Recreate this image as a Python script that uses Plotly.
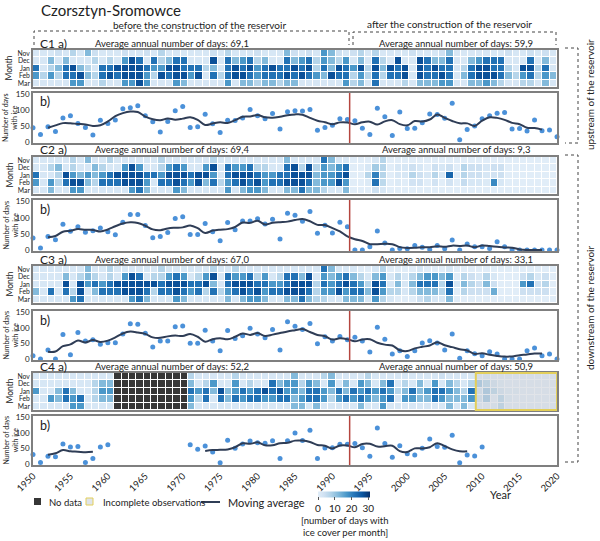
import plotly.graph_objects as go

years = list(range(1950, 2021))
months = ['Nov', 'Dec', 'Jan', 'Feb', 'Mar']
N = None

# ---------------- C1 ----------------
c1_nov = [2,2,2,4,2,7,2,12,4,2, 2,2,4,2,2,4,2,7,2,2, 2,2,2,2,4,2,7,2,2,2, 4,2,2,2,12,4,2,4,2,17, 12,4,2,4,7,2,7,2,2,2, 2,4,2,2,2,4,12,2,2,2, 2,2,2,2,4,2,2,4,2,4, 2]
c1_dec = [2,2,12,2,12,2,2,2,7,2, 7,2,17,27,22,2,22,7,12,22, 22,2,2,2,27,2,22,12,17,22, 7,12,2,2,22,12,17,22,7,17, 12,7,17,2,12,2,22,7,2,27, 2,2,27,22,12,12,22,2,2,12, 17,22,22,22,2,2,2,22,2,12, 2]
c1_jan = [22,2,7,12,22,27,12,7,2,22, 22,27,27,27,27,22,17,17,27,27, 22,22,22,7,12,2,22,27,22,27, 17,22,27,22,22,27,22,27,7,22, 12,27,22,17,27,7,27,12,27,22, 27,2,27,22,27,22,22,2,7,22, 27,27,22,22,7,2,27,27,7,22, 2]
c1_feb = [17,7,17,7,22,22,27,12,7,22, 27,22,27,27,27,17,7,27,22,27, 27,17,27,2,22,7,22,27,27,22, 17,22,22,22,27,22,27,22,17,12, 27,22,22,7,17,7,22,7,22,22, 27,2,27,22,22,27,22,2,12,22, 27,27,27,22,12,7,17,22,7,17, 12]
c1_mar = [2,2,2,2,2,17,17,2,2,7, 2,2,17,17,27,17,2,2,2,17, 12,2,2,2,2,2,17,2,12,12, 7,12,12,7,12,12,2,2,2,2, 2,2,17,7,12,2,22,2,2,2, 7,2,12,12,12,17,17,2,2,12, 12,17,12,7,2,2,7,7,2,12, 2]
c1_total = [45,24,48,33,76,83,59,46,22,69, 59,70,105,108,115,83,64,32,65,99,
            112,46,48,88,58,30,69,68,76,103, 83,74,90,41,96,99,98,103,37,46,
            53,74,71,67,44,24,107,80,21,95, 43,44,61,89,87,75,123,7,40,51,
            74,83,91,93,41,43,35,70,36,38, 17]

# ---------------- C2 ----------------
c2_nov = [2,2,2,2,2,7,2,12,2,2, 7,2,2,2,2,2,2,7,2,2, 2,2,2,2,7,2,2,2,2,2, 2,2,2,2,12,2,2,2,2,22, 12,2,2,
          0,0,0,2,7,0,0,0,0,0, 0,0,0,0,0,0,0,0,0,0, 0,0,0,0,0,0,0,0]
c2_dec = [2,2,7,12,2,7,2,2,12,7, 2,2,17,27,17,2,2,7,17,22, 17,2,2,17,27,2,22,17,17,22, 7,7,2,2,22,27,7,27,7,17, 12,17,22,
          0,0,2,9,7,0,2,2,4,2, 0,4,2,4,0,7,4,4,2,4, 4,0,0,0,0,0,0,0]
c2_jan = [22,2,2,7,27,17,12,17,12,17, 22,27,27,27,27,22,22,17,27,27, 27,22,27,27,17,2,22,27,27,27, 22,17,17,22,22,27,27,27,12,17, 17,22,27,
          0,0,7,20,7,0,2,2,7,4, 2,7,2,24,0,7,4,4,2,3, 4,0,0,0,0,0,0,0]
c2_feb = [17,2,17,7,22,27,27,12,7,22, 22,22,27,27,27,17,2,22,22,27, 22,17,27,12,22,7,17,22,27,22, 27,17,22,22,27,27,27,22,12,17, 17,27,17,
          0,0,1,22,6,0,1,0,3,3, 0,3,0,3,0,5,2,2,1,19, 2,0,0,0,0,0,0,0]
c2_mar = [2,2,12,2,2,17,17,2,2,2, 2,2,2,17,22,12,2,2,2,17, 12,2,2,2,2,2,17,2,12,17, 17,12,2,2,12,12,22,12,12,7, 2,2,12,
          0,0,0,4,2,0,0,0,0,0, 0,0,0,0,0,0,0,0,0,0, 0,0,0,0,0,0,0,0]
c2_total = [37,6,42,32,80,58,72,55,60,68, 57,47,86,110,110,76,38,42,54,98,
            103,48,48,82,57,29,85,63,90,90, 97,81,95,34,114,108,89,119,52,77,
            53,86,72,0,0,10,59,22,0,5, 4,14,9,2,14,4,31,0,19,10,
            10,5,26,10,0,0,0,0,0,0, 0]

# ---------------- C3 ----------------
c3_nov = [2,2,2,2,2,2,2,12,2,2, 7,2,2,2,2,2,2,7,2,2, 2,2,2,2,7,2,2,7,2,2, 2,2,2,2,2,2,2,2,2,22, 12,2,2,
          2,0,0,2,7,0,0,0,0,2, 0,0,0,2,0,0,0,0,0,0, 0,0,0,0,0,0,0,0]
c3_dec = [2,2,2,2,12,2,7,12,7,2, 7,2,17,27,22,2,7,7,17,22, 17,2,7,17,27,2,22,17,17,22, 7,17,2,7,22,22,12,27,2,17, 12,17,22,
          12,7,2,12,17,2,7,2,7,12, 17,17,12,17,0,7,4,2,7,2, 0,0,0,4,7,2,4,0]
c3_jan = [2,2,2,2,27,2,27,17,22,17, 22,27,27,27,27,27,27,22,27,27, 27,22,22,27,12,2,22,27,27,27, 22,22,17,17,22,27,27,27,7,22, 17,22,27,
          22,17,7,27,22,2,12,2,12,22, 22,22,7,27,2,12,7,4,12,4, 0,0,0,17,22,4,7,0]
c3_feb = [12,2,22,2,22,7,27,2,12,22, 22,22,27,27,27,22,7,22,22,27, 22,17,22,7,22,7,17,22,27,22, 27,17,22,22,27,27,27,22,7,17, 17,27,17,
          22,22,12,27,17,7,7,2,7,12, 12,12,7,22,0,7,4,4,4,14, 0,0,0,4,4,4,4,0]
c3_mar = [2,2,2,2,2,17,22,2,2,2, 2,2,2,17,22,12,2,2,2,17, 12,2,2,2,2,2,12,2,12,17, 17,12,2,2,12,12,22,12,7,7, 2,2,12,
          12,12,2,17,7,2,0,0,0,4, 7,2,2,12,0,0,0,0,0,0, 0,0,0,0,0,0,0,0]
c3_total = [11,0,29,0,79,14,86,58,62,48, 53,53,81,114,112,83,39,58,58,104,
            107,51,51,93,58,27,92,66,75,99, 81,69,95,29,120,106,95,115,49,72,
            58,73,62,70,58,23,103,64,16,27, 8,27,52,59,52,29,81,3,27,17,
            11,24,16,0,0,0,27,36,11,16, 0]

# ---------------- C4 ----------------
c4_nov = [2,2,2,2,2,2,2,2,2,2,2, N,N,N,N,N,N,N,N,N,N,
          7,2,2,2,2,2,7,2,2,2, 2,2,2,2,12,2,2,2,7,12, 2,2,2,2,7,2,2,2,2,2, 2,2,2,2,4,2,2,2,2,2, 4,2,2,2,2,2,2,2,2,2]
c4_dec = [2,2,2,2,2,2,2,2,7,12,12, N,N,N,N,N,N,N,N,N,N,
          12,2,7,17,2,2,17,2,7,2, 2,22,12,17,17,7,17,12,2,17, 2,12,2,17,12,2,12,22,2,7, 2,12,2,17,2,12,7,2,7,17, 12,7,4,2,2,2,2,2,2,2]
c4_jan = [17,2,2,12,22,12,2,2,7,17,17, N,N,N,N,N,N,N,N,N,N,
          22,17,22,12,27,12,17,22,17,22, 27,22,27,17,17,12,22,22,17,12, 22,12,22,17,22,17,22,17,7,12, 22,12,17,22,22,17,12,7,22,7, 17,12,7,4,4,2,2,2,2,2]
c4_feb = [2,2,17,12,22,17,22,2,7,12,12, N,N,N,N,N,N,N,N,N,N,
          17,7,22,2,22,12,22,17,22,22, 17,17,22,22,12,17,22,22,17,7, 17,22,17,22,17,12,17,22,2,17, 17,12,12,22,17,12,12,12,17,7, 17,2,12,4,2,2,2,2,2,2]
c4_mar = [2,2,2,2,2,17,17,2,2,2,2, N,N,N,N,N,N,N,N,N,N,
          12,2,2,2,2,2,2,2,2,2, 2,2,2,2,12,12,2,12,2,2, 2,2,2,12,2,2,17,2,2,2, 2,2,2,2,2,12,2,12,2,2, 2,4,12,2,2,2,2,2,2,2]
c4_total = [31,5,25,24,65,55,57,5,18,55, 62,N,N,N,N,N,N,N,N,N,
            N,62,48,58,39,4,77,51,65,74, 69,67,75,18,75,100,76,109,18,52,
            53,64,64,66,53,25,116,66,22,59, 33,29,51,81,57,54,93,4,29,26,
            55,N,N,N,N,N,N,N,N,N, N]

avg_before = ['69,1', '69,4', '67,0', '52,2']
avg_after = ['59,9', '9,3', '33,1', '50,9']
station_labels = ['C1', 'C2', 'C3', 'C4']
reservoir_year = 1992.3
incomplete_from = 2009.5
tick_years = list(range(1950, 2021, 5))

W, H = 600, 541
def px(x):
    return x / W
def py(y):
    return 1 - y / H

FONT = 'Lato'
TXT = '#222222'
GRID = '#7f7f7f'
DOT = '#4b91d9'
LINE = '#2f3d56'
RED = '#b5463f'

colorscale = [[0.0, '#e1edf8'], [0.12, '#cfe1f2'], [0.25, '#b0d2e8'], [0.4, '#7fb8da'],
              [0.55, '#4a98c9'], [0.7, '#2474b7'], [0.85, '#0b559f'], [1.0, '#08306b']]


def moving_average(vals, k=2):
    out = []
    for i in range(len(vals)):
        win = vals[max(0, i - k): i + k + 1]
        if i - k < 0 or i + k >= len(vals) or any(v is None for v in win):
            out.append(None)
        else:
            out.append(sum(win) / len(win))
    return out


stations = [
    dict(rows=[c1_nov, c1_dec, c1_jan, c1_feb, c1_mar], total=c1_total, heat=(50, 87), box=(93, 143)),
    dict(rows=[c2_nov, c2_dec, c2_jan, c2_feb, c2_mar], total=c2_total, heat=(157, 194), box=(200, 251)),
    dict(rows=[c3_nov, c3_dec, c3_jan, c3_feb, c3_mar], total=c3_total, heat=(266, 303), box=(311, 360)),
    dict(rows=[c4_nov, c4_dec, c4_jan, c4_feb, c4_mar], total=c4_total, heat=(373, 410), box=(416, 465)),
]

fig = go.Figure()
layout = {}
shapes = []
annotations = []
XDOM = [px(33), px(557)]

for i, st in enumerate(stations):
    ha = 2 * i + 1
    ba = 2 * i + 2
    hx = 'x' if ha == 1 else f'x{ha}'
    hy = 'y' if ha == 1 else f'y{ha}'
    bx = f'x{ba}'
    by = f'y{ba}'
    hxk = 'xaxis' if ha == 1 else f'xaxis{ha}'
    hyk = 'yaxis' if ha == 1 else f'yaxis{ha}'

    fig.add_trace(go.Heatmap(z=st['rows'], x=years, y=months, coloraxis='coloraxis',
                             xgap=1, ygap=1, xaxis=hx, yaxis=hy, hoverongaps=False))
    if any(v is None for v in st['rows'][0]):
        nd = [[1 if v is None else None for v in row] for row in st['rows']]
        fig.add_trace(go.Heatmap(z=nd, x=years, y=months, showscale=False,
                                 colorscale=[[0, '#363636'], [1, '#363636']],
                                 xgap=1, ygap=1, xaxis=hx, yaxis=hy))

    ma = moving_average(st['total'])
    fig.add_trace(go.Scatter(x=years, y=st['total'], mode='markers', cliponaxis=False,
                             marker=dict(color=DOT, size=5), xaxis=bx, yaxis=by))
    fig.add_trace(go.Scatter(x=years, y=ma, mode='lines', line=dict(color=LINE, width=2, shape='spline', smoothing=1.0),
                             xaxis=bx, yaxis=by, connectgaps=False))

    h0, h1 = st['heat']
    b0, b1 = st['box']
    layout[hxk] = dict(domain=XDOM, range=[1949.5, 2020.5], showticklabels=False, ticks='',
                       showgrid=False, zeroline=False, showline=True, mirror=True, automargin=False,
                       linecolor=GRID, linewidth=1.5, anchor=hy)
    layout[hyk] = dict(domain=[py(h1), py(h0)], autorange='reversed', type='category',
                       tickmode='array', tickvals=months, ticktext=months, automargin=False,
                       tickfont=dict(size=6.8, color=TXT, family=FONT), ticks='', ticklen=0,
                       showgrid=False, zeroline=False, showline=True, mirror=True,
                       linecolor=GRID, linewidth=1.5, anchor=hx)
    last = (i == len(stations) - 1)
    layout[f'xaxis{ba}'] = dict(domain=XDOM, range=[1950, 2020], showgrid=False, zeroline=False,
                                showline=True, mirror=True, linecolor=GRID, linewidth=1.5, automargin=False,
                                tickvals=tick_years, ticktext=[str(t) for t in tick_years],
                                showticklabels=last, tickangle=-45, ticks='',
                                tickfont=dict(size=9.5, color=TXT, family=FONT), anchor=by)
    layout[f'yaxis{ba}'] = dict(domain=[py(b1), py(b0)], range=[-3, 155], tickvals=[0, 50, 100, 150],
                                showgrid=False, zeroline=False, showline=True, mirror=True, automargin=False,
                                linecolor=GRID, linewidth=1.5, ticks='',
                                tickfont=dict(size=8, color=TXT, family=FONT), anchor=bx)

    shapes.append(dict(type='line', xref=bx, yref=f'{by} domain', x0=reservoir_year, x1=reservoir_year,
                       y0=0, y1=1, line=dict(color=RED, width=1.5)))

    annotations += [
        dict(text=f'{station_labels[i]} a)', x=px(38), y=py(h0 - 7), xanchor='left', yanchor='middle',
             font=dict(size=12, color=TXT, family=FONT)),
        dict(text=f'Average annual number of days: {avg_before[i]}', x=px(172), y=py(h0 - 7),
             xanchor='center', yanchor='middle', font=dict(size=9.5, color=TXT, family=FONT)),
        dict(text=f'Average annual number of days: {avg_after[i]}', x=px(456), y=py(h0 - 7),
             xanchor='center', yanchor='middle', font=dict(size=9.5, color=TXT, family=FONT)),
        dict(text='b)', x=px(38), y=py(b0 + 9), xanchor='left', yanchor='middle',
             font=dict(size=12.5, color=TXT, family=FONT)),
        dict(text='Month', x=px(9), y=py((h0 + h1) / 2), textangle=-90, xanchor='center',
             yanchor='middle', font=dict(size=8.5, color=TXT, family=FONT)),
        dict(text='Number of days<br>with ice', x=px(10), y=py((b0 + b1) / 2), textangle=-90,
             xanchor='center', yanchor='middle', font=dict(size=7, color=TXT, family=FONT)),
    ]

# incomplete observations overlay on C4 heatmap
shapes.append(dict(type='rect', xref='x7', yref='y7 domain', x0=incomplete_from, x1=2020.5, y0=0, y1=1,
                   fillcolor='rgba(214,218,224,0.72)', line=dict(color='#e3cf5a', width=2)))

# brackets (dotted)
def path(points):
    return 'M ' + ' L '.join(f'{px(x)},{py(y)}' for x, y in points)

DOTLINE = dict(color='#444444', width=1, dash='dot')
shapes += [
    dict(type='path', xref='paper', yref='paper', path=path([(34, 45), (34, 31), (349, 31), (349, 45)]), line=DOTLINE),
    dict(type='path', xref='paper', yref='paper', path=path([(353, 45), (353, 32), (556, 32), (556, 45)]), line=DOTLINE),
    dict(type='path', xref='paper', yref='paper', path=path([(565, 48), (578, 48), (578, 143), (565, 143)]), line=DOTLINE),
    dict(type='path', xref='paper', yref='paper', path=path([(565, 155), (578, 155), (578, 462), (565, 462)]), line=DOTLINE),
]

# legend
shapes += [
    dict(type='rect', xref='paper', yref='paper', x0=px(34), x1=px(41), y0=py(505), y1=py(498),
         fillcolor='#363636', line=dict(width=0)),
    dict(type='rect', xref='paper', yref='paper', x0=px(86), x1=px(93), y0=py(505), y1=py(498),
         fillcolor='#dfe4ea', line=dict(color='#e3cf5a', width=1)),
    dict(type='line', xref='paper', yref='paper', x0=px(201), x1=px(220), y0=py(502), y1=py(502),
         line=dict(color=LINE, width=2)),
]

annotations += [
    dict(text='Czorsztyn-Sromowce', x=px(39), y=py(9.5), xanchor='left', yanchor='middle',
         font=dict(size=15, color=TXT, family=FONT)),
    dict(text='before the construction of the reservoir', x=px(199), y=py(24.5), xanchor='center',
         yanchor='middle', font=dict(size=10, color=TXT, family=FONT)),
    dict(text='after the construction of the reservoir', x=px(449), y=py(24), xanchor='center',
         yanchor='middle', font=dict(size=10, color=TXT, family=FONT)),
    dict(text='upstream of the reservoir', x=px(590), y=py(95), textangle=-90, xanchor='center',
         yanchor='middle', font=dict(size=10, color=TXT, family=FONT)),
    dict(text='downstream of the reservoir', x=px(590), y=py(308), textangle=-90, xanchor='center',
         yanchor='middle', font=dict(size=10, color=TXT, family=FONT)),
    dict(text='Year', x=px(500), y=py(494), xanchor='center', yanchor='middle',
         font=dict(size=11, color=TXT, family=FONT)),
    dict(text='No data', x=px(47), y=py(502), xanchor='left', yanchor='middle',
         font=dict(size=9.5, color=TXT, family=FONT)),
    dict(text='Incomplete observations', x=px(101), y=py(502), xanchor='left', yanchor='middle',
         font=dict(size=9.5, color=TXT, family=FONT)),
    dict(text='Moving average', x=px(226), y=py(502), xanchor='left', yanchor='middle',
         font=dict(size=11, color=TXT, family=FONT)),
    dict(text='[number of days with', x=px(345), y=py(520), xanchor='center', yanchor='middle',
         font=dict(size=9.5, color=TXT, family=FONT)),
    dict(text='ice cover per month]', x=px(345), y=py(532), xanchor='center', yanchor='middle',
         font=dict(size=9.5, color=TXT, family=FONT)),
]

for a in annotations:
    a.setdefault('xref', 'paper')
    a.setdefault('yref', 'paper')
    a.setdefault('showarrow', False)

fig.update_layout(
    width=W, height=H, margin=dict(l=0, r=0, t=0, b=0, autoexpand=False),
    paper_bgcolor='white', plot_bgcolor='white', showlegend=False,
    font=dict(family=FONT, color=TXT),
    coloraxis=dict(colorscale=colorscale, cmin=0, cmax=31,
                   colorbar=dict(orientation='h', x=px(344), xanchor='center', y=py(503), yanchor='middle',
                                 len=72, lenmode='pixels', thickness=6, tickvals=[0, 10, 20, 30],
                                 ticks='outside', ticklen=3, tickcolor='#555555', outlinewidth=0,
                                 tickfont=dict(size=10, color=TXT, family=FONT))),
    shapes=shapes, annotations=annotations, **layout)

fig.write_html('out.html', config={'displayModeBar': False},
               post_script="document.body.style.margin='0px';")
